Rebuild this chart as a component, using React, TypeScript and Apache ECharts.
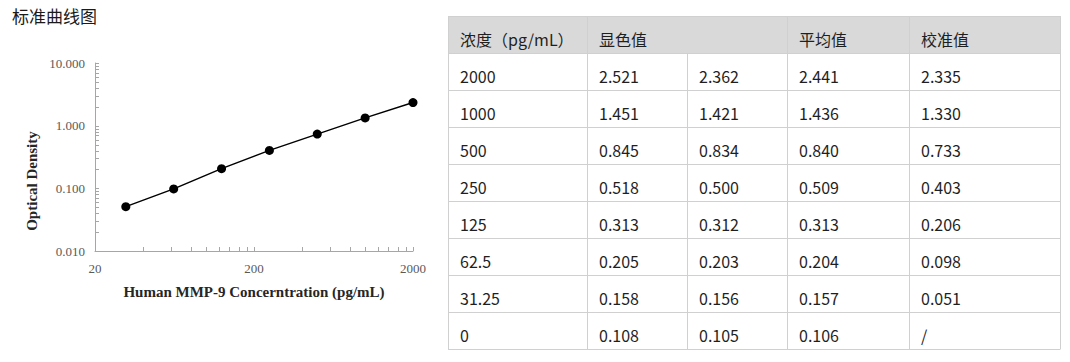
import { useEffect, useRef } from "react";
import * as echarts from "echarts";

// ---- data ----
const concentrations = [2000, 1000, 500, 250, 125, 62.5, 31.25, 0];
const odRep1 = [2.521, 1.451, 0.845, 0.518, 0.313, 0.205, 0.158, 0.108];
const odRep2 = [2.362, 1.421, 0.834, 0.5, 0.312, 0.203, 0.156, 0.105];
const odMean = [2.441, 1.436, 0.84, 0.509, 0.313, 0.204, 0.157, 0.106];
const odCalibrated: (number | null)[] = [2.335, 1.33, 0.733, 0.403, 0.206, 0.098, 0.051, null];
const tableHeaders = ["浓度（pg/mL）", "显色值", "", "平均值", "校准值"];
const xTickLabels = [20, 200, 2000];
const xTicks = [20, 40, 60, 80, 100, 120, 140, 160, 180, 200, 400, 600, 800, 1000, 1200, 1400, 1600, 1800, 2000];
const yTicks = [
  0.01, 0.02, 0.03, 0.04, 0.05, 0.06, 0.07, 0.08, 0.09,
  0.1, 0.2, 0.3, 0.4, 0.5, 0.6, 0.7, 0.8, 0.9,
  1, 2, 3, 4, 5, 6, 7, 8, 9, 10,
];
const X_MIN = 20;
const X_MAX = 2000;
const Y_MIN = 0.01;
const Y_MAX = 10;

// ---- layout ----
const colX = [448, 587, 687, 787, 909, 1060];
const tableTop = 16;
const rowH = 37;
const lineColor = "#d0d0d0";
const axisColor = "#a6a6a6";
const labelColor = "#595959";
const serif = '"Liberation Serif", "Times New Roman", serif';
const cjk = '"Noto Sans CJK SC", "Noto Sans", sans-serif';

function fmt(v: number | null) {
  return v == null ? "/" : v.toFixed(3);
}

function buildTable(): any[] {
  const els: any[] = [];
  const left = colX[0];
  const right = colX[colX.length - 1];
  const nRows = concentrations.length;
  const bottom = tableTop + rowH * (nRows + 1);
  els.push({
    type: "rect",
    shape: { x: left, y: tableTop, width: right - left, height: rowH },
    style: { fill: "#d9d9d9" },
    silent: true,
  });
  for (let i = 0; i <= nRows + 1; i++) {
    const y = tableTop + i * rowH + 0.5;
    els.push({
      type: "line",
      shape: { x1: left, y1: y, x2: right, y2: y },
      style: { stroke: lineColor, lineWidth: 1 },
      silent: true,
    });
  }
  colX.forEach((x, j) => {
    const y1 = j === 2 ? tableTop + rowH : tableTop;
    els.push({
      type: "line",
      shape: { x1: x + 0.5, y1, x2: x + 0.5, y2: bottom + 0.5 },
      style: { stroke: lineColor, lineWidth: 1 },
      silent: true,
    });
  });
  const textStyle = (text: string) => ({
    text,
    fill: "#1f1f1f",
    font: `16px ${cjk}`,
    align: "left",
    verticalAlign: "middle",
  });
  tableHeaders.forEach((h, j) => {
    if (!h) return;
    els.push({
      type: "text",
      x: colX[j] + 12,
      y: tableTop + 23,
      style: textStyle(h),
      silent: true,
    });
  });
  concentrations.forEach((c, i) => {
    const cells = [String(c), fmt(odRep1[i]), fmt(odRep2[i]), fmt(odMean[i]), fmt(odCalibrated[i])];
    cells.forEach((t, j) => {
      els.push({
        type: "text",
        x: colX[j] + 12,
        y: tableTop + rowH * (i + 1) + 23,
        style: textStyle(t),
        silent: true,
      });
    });
  });
  return els;
}

export default function App() {
  const ref = useRef<HTMLDivElement>(null);
  useEffect(() => {
    if (!ref.current) return;
    const chart = echarts.init(ref.current, undefined, { renderer: "svg" });
    const curve = concentrations
      .map((c, i) => [c, odCalibrated[i]])
      .filter((d) => (d[0] as number) > 0 && d[1] != null);

    const option: any = {
      animation: false,
      backgroundColor: "#ffffff",
      grid: { left: 95, top: 63, width: 318, height: 188 },
      xAxis: {
        type: "log",
        logBase: 10,
        min: X_MIN,
        max: X_MAX,
        axisLine: { show: true, lineStyle: { color: axisColor, width: 1 } },
        axisTick: { show: false },
        axisLabel: { show: false },
        splitLine: { show: false },
      },
      yAxis: {
        type: "log",
        logBase: 10,
        min: Y_MIN,
        max: Y_MAX,
        axisLine: { show: true, lineStyle: { color: axisColor, width: 1 } },
        axisTick: { show: false },
        axisLabel: {
          formatter: (v: number) => v.toFixed(3),
          color: labelColor,
          fontFamily: serif,
          fontSize: 13,
          margin: 10,
        },
        splitLine: { show: false },
      },
      series: [
        {
          type: "custom",
          name: "xMinorTicks",
          coordinateSystem: "cartesian2d",
          silent: true,
          clip: false,
          data: xTicks.map((v) => [v, Y_MIN]),
          renderItem: (_p: any, api: any) => {
            const pt = api.coord([api.value(0), api.value(1)]);
            const x = Math.round(pt[0]) + 0.5;
            return {
              type: "line",
              shape: { x1: x, y1: pt[1], x2: x, y2: pt[1] - 4 },
              style: { stroke: axisColor, lineWidth: 1 },
            };
          },
        },
        {
          type: "custom",
          name: "yMinorTicks",
          coordinateSystem: "cartesian2d",
          silent: true,
          clip: false,
          data: yTicks.map((v) => [X_MIN, v]),
          renderItem: (_p: any, api: any) => {
            const pt = api.coord([api.value(0), api.value(1)]);
            const y = Math.round(pt[1]) + 0.5;
            return {
              type: "line",
              shape: { x1: pt[0], y1: y, x2: pt[0] + 4, y2: y },
              style: { stroke: axisColor, lineWidth: 1 },
            };
          },
        },
        {
          type: "custom",
          name: "xLabels",
          coordinateSystem: "cartesian2d",
          silent: true,
          clip: false,
          data: xTickLabels.map((v) => [v, Y_MIN]),
          renderItem: (_p: any, api: any) => {
            const pt = api.coord([api.value(0), api.value(1)]);
            return {
              type: "text",
              x: pt[0],
              y: pt[1] + 17,
              style: {
                text: String(api.value(0)),
                fill: labelColor,
                font: `13px ${serif}`,
                align: "center",
                verticalAlign: "middle",
              },
            };
          },
        },
        {
          type: "line",
          name: "Standard curve",
          data: curve,
          symbol: "circle",
          symbolSize: 9,
          lineStyle: { color: "#000000", width: 1.5 },
          itemStyle: { color: "#000000" },
          z: 5,
        },
      ],
      graphic: [
        {
          type: "text",
          x: 12,
          y: 15,
          style: {
            text: "标准曲线图",
            fill: "#1a1a1a",
            font: `17px ${cjk}`,
            align: "left",
            verticalAlign: "middle",
          },
          silent: true,
        },
        {
          type: "text",
          x: 32,
          y: 181,
          rotation: Math.PI / 2,
          style: {
            text: "Optical Density",
            fill: "#262626",
            font: `bold 15px ${serif}`,
            align: "center",
            verticalAlign: "middle",
          },
          silent: true,
        },
        {
          type: "text",
          x: 254,
          y: 292,
          style: {
            text: "Human MMP-9 Concerntration (pg/mL)",
            fill: "#262626",
            font: `bold 15px ${serif}`,
            align: "center",
            verticalAlign: "middle",
          },
          silent: true,
        },
        ...buildTable(),
      ],
    };
    chart.setOption(option);
    return () => chart.dispose();
  }, []);
  return (
    <div
      ref={ref}
      style={{ position: "absolute", left: 0, top: 0, width: 1070, height: 362 }}
    />
  );
}
